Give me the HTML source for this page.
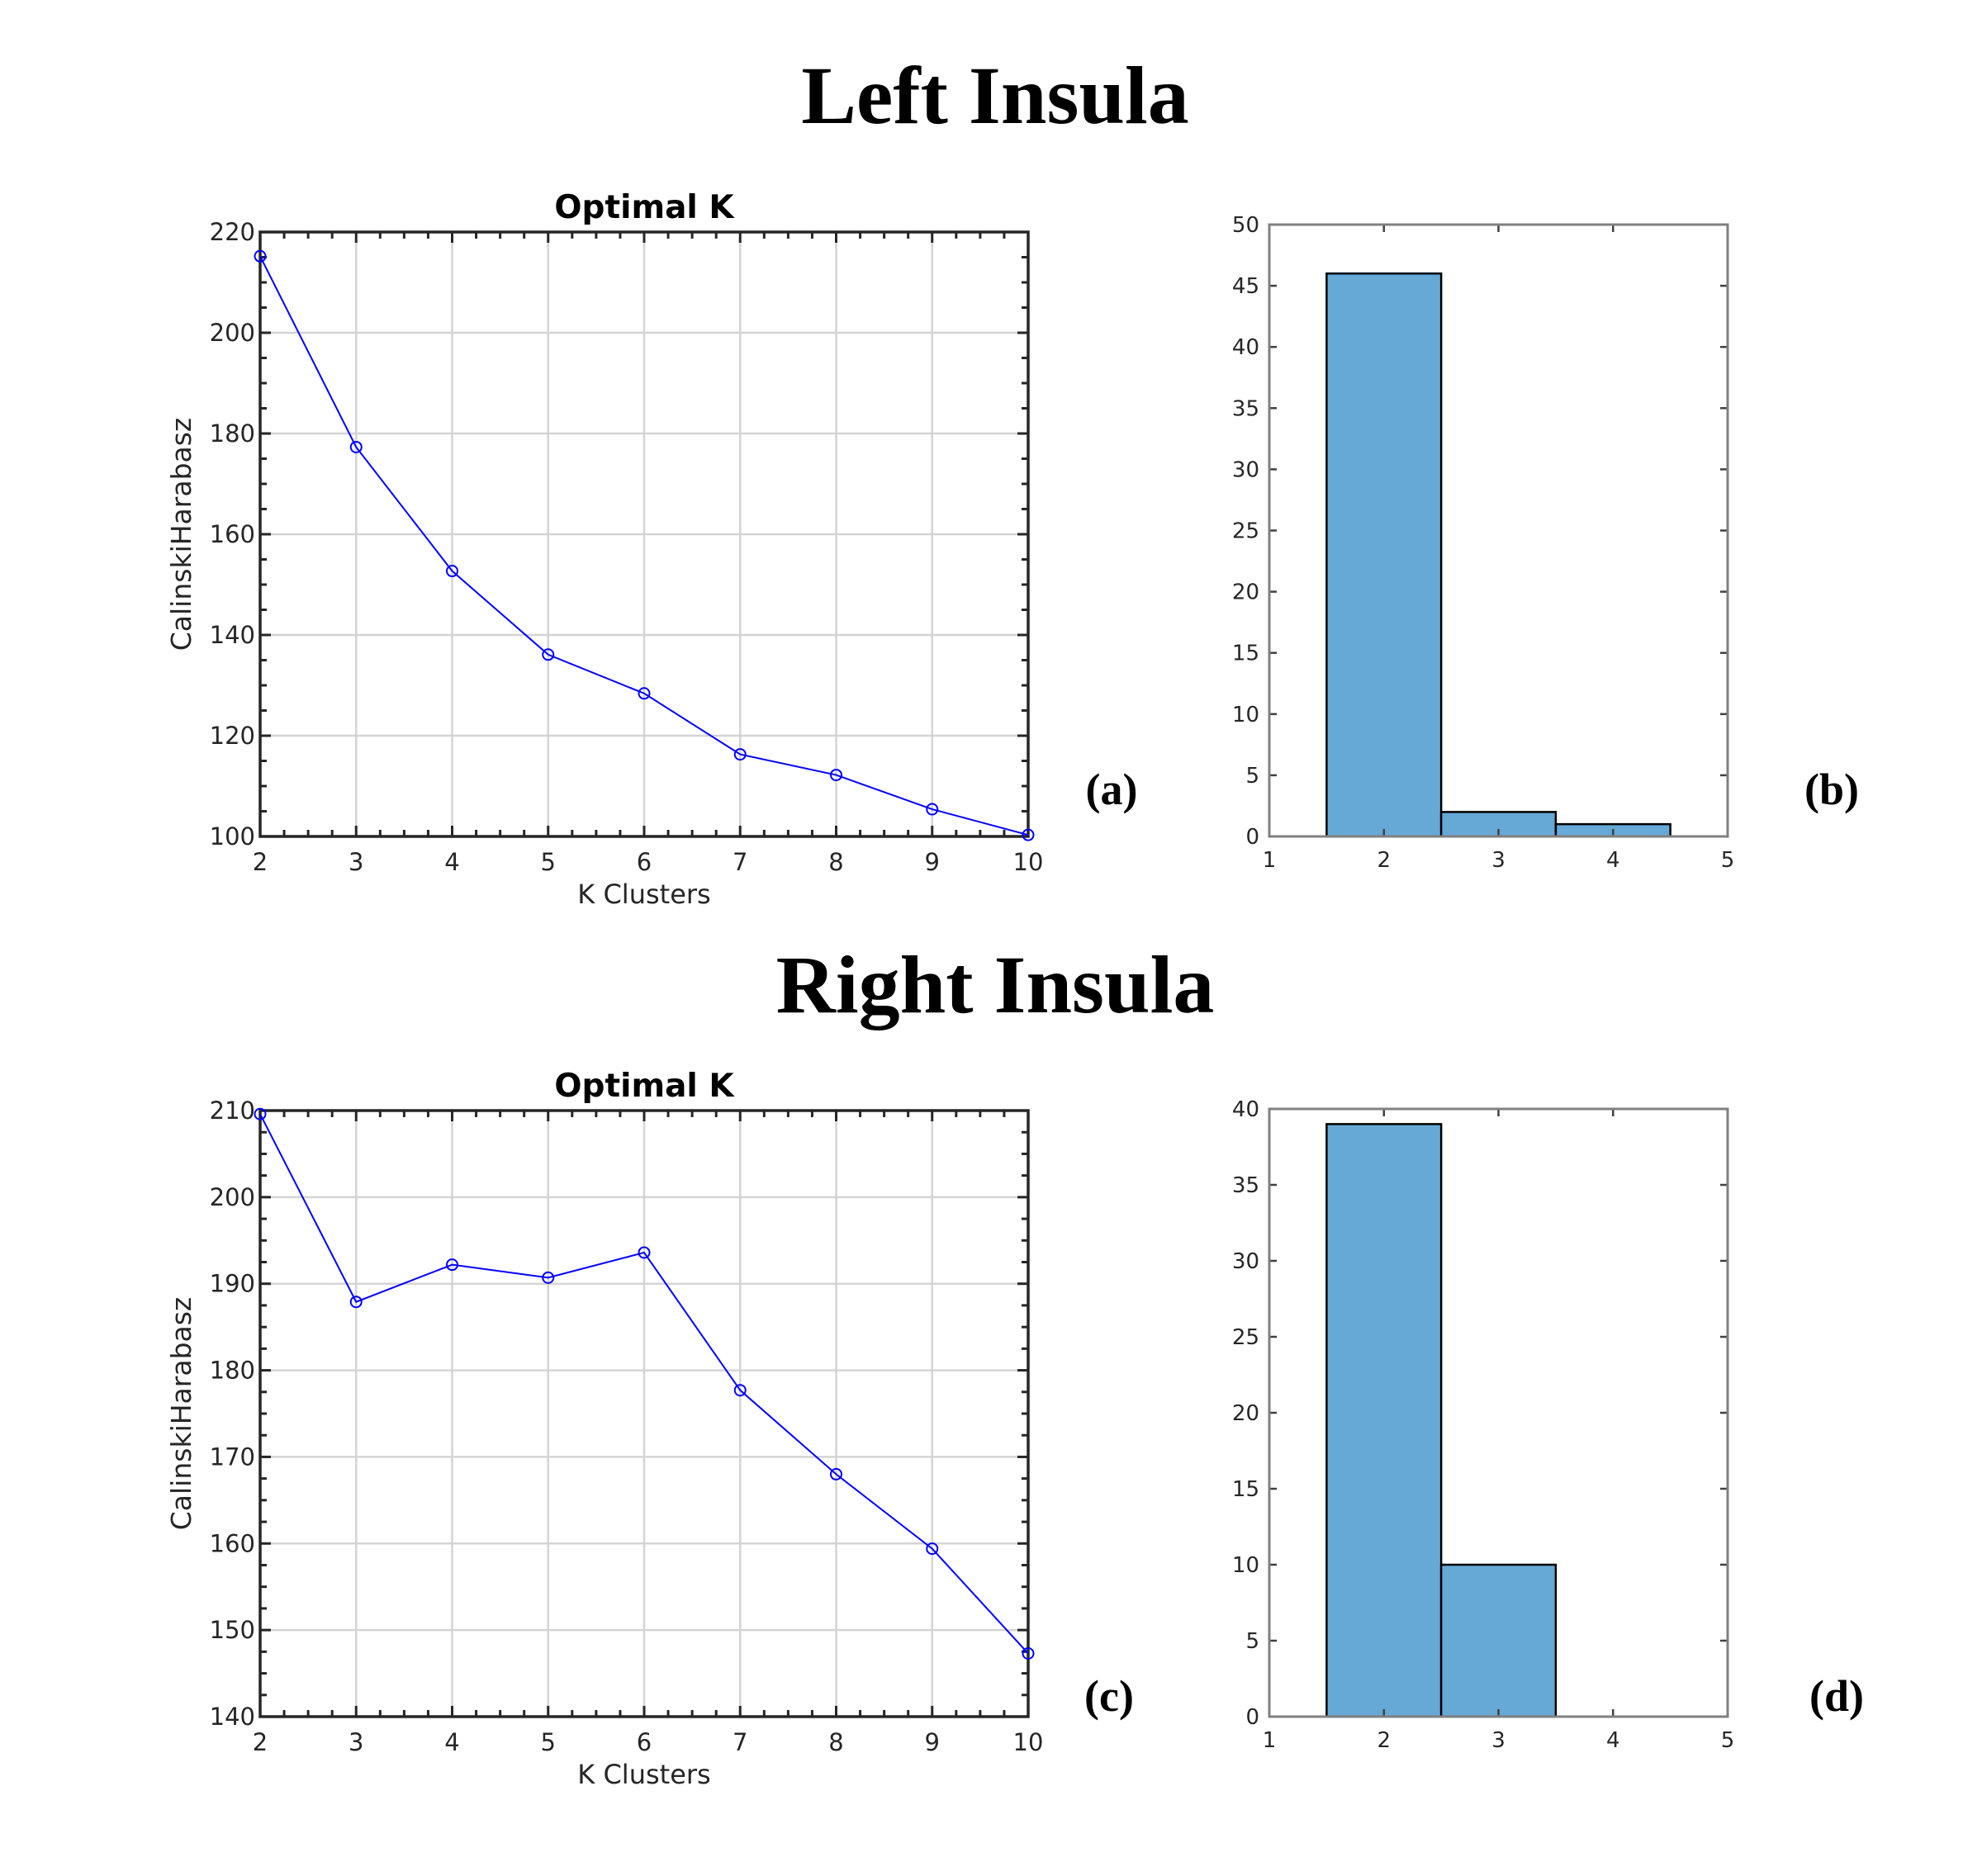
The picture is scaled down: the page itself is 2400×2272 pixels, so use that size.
<!DOCTYPE html>
<html><head><meta charset="utf-8"><style>
html,body{margin:0;padding:0;background:#fff}
svg{display:block}
</style></head><body>
<svg id="fig" width="2400" height="2272" xmlns="http://www.w3.org/2000/svg">
<text x="1205" y="149" text-anchor="middle" font-family="Liberation Serif, serif" font-weight="bold" font-size="100">Left Insula</text>
<text x="1205" y="1226" text-anchor="middle" font-family="Liberation Serif, serif" font-weight="bold" font-size="100">Right Insula</text>
<text x="1346" y="974" text-anchor="middle" font-family="Liberation Serif, serif" font-weight="bold" font-size="54">(a)</text>
<text x="2218" y="974" text-anchor="middle" font-family="Liberation Serif, serif" font-weight="bold" font-size="54">(b)</text>
<text x="1343" y="2072" text-anchor="middle" font-family="Liberation Serif, serif" font-weight="bold" font-size="54">(c)</text>
<text x="2224" y="2072" text-anchor="middle" font-family="Liberation Serif, serif" font-weight="bold" font-size="54">(d)</text>
</svg>
<script>
const kCategories=[2,3,4,5,6,7,8,9,10];
const leftCH=[215.2,177.3,152.7,136.1,128.4,116.3,112.2,105.4,100.3];
const rightCH=[209.6,187.9,192.2,190.7,193.6,177.7,168.0,159.4,147.3];
const leftYTicks=[100,120,140,160,180,200,220];
const rightYTicks=[140,150,160,170,180,190,200,210];
const histBins=[2,3,4];
const leftCounts=[46,2,1];
const rightCounts=[39,10,0];
const histXTicks=[1,2,3,4,5];
const leftHistYTicks=[0,5,10,15,20,25,30,35,40,45,50];
const rightHistYTicks=[0,5,10,15,20,25,30,35,40];

const svg=document.getElementById('fig');
const NS='http://www.w3.org/2000/svg';
function el(tag,attrs,parent){const e=document.createElementNS(NS,tag);for(const k in attrs)e.setAttribute(k,attrs[k]);(parent||svg).appendChild(e);return e;}
const FONT='DejaVu Sans, Liberation Sans, sans-serif';

function linePlot(name,x0,y0,x1,y1,ymin,ymax,yTicks,vals,minorStep){
  const g=el('g',{});
  
  
  const sx=v=>x0+(v-2)/(8)*(x1-x0);
  const sy=v=>y1-(v-ymin)/(ymax-ymin)*(y1-y0);
  kCategories.forEach(k=>{const l=el('line',{x1:sx(k),x2:sx(k),y1:y0,y2:y1,stroke:'#d4d4d4','stroke-width':2.5},g);});
  yTicks.forEach(t=>{const l=el('line',{x1:x0,x2:x1,y1:sy(t),y2:sy(t),stroke:'#d4d4d4','stroke-width':2.5},g);});
  for(let k=2;k<=10.001;k+=0.25){const isMaj=Math.abs(k-Math.round(k))<1e-6;const len=isMaj?13:8;
    el('line',{x1:sx(k),x2:sx(k),y1:y1,y2:y1-len,stroke:'#262626','stroke-width':3},g);
    el('line',{x1:sx(k),x2:sx(k),y1:y0,y2:y0+len,stroke:'#262626','stroke-width':3},g);}
  for(let v=ymin;v<=ymax+1e-6;v+=minorStep){const isMaj=yTicks.some(t=>Math.abs(t-v)<1e-6);const len=isMaj?13:8;
    el('line',{x1:x0,x2:x0+len,y1:sy(v),y2:sy(v),stroke:'#262626','stroke-width':3},g);
    el('line',{x1:x1,x2:x1-len,y1:sy(v),y2:sy(v),stroke:'#262626','stroke-width':3},g);}
  const r=el('rect',{x:x0,y:y0,width:x1-x0,height:y1-y0,fill:'none',stroke:'#262626','stroke-width':3.5},g);
  
  kCategories.forEach(k=>{const t=el('text',{x:sx(k),y:y1+41,'text-anchor':'middle','font-family':FONT,'font-size':29,fill:'#262626'},g);t.textContent=k;});
  yTicks.forEach(v=>{const t=el('text',{x:x0-6,y:sy(v)+10,'text-anchor':'end','font-family':FONT,'font-size':29,fill:'#262626'},g);t.textContent=v;});
  const xl=el('text',{x:(x0+x1)/2,y:y1+81,'text-anchor':'middle','font-family':FONT,'font-size':32,fill:'#262626'},g);xl.textContent='K Clusters';
  
  const yl=el('text',{x:0,y:0,transform:`translate(${x0-84},${(y0+y1)/2}) rotate(-90)`,'text-anchor':'middle','font-family':FONT,'font-size':33,fill:'#262626'},g);yl.textContent='CalinskiHarabasz';
  
  const tt=el('text',{x:(x0+x1)/2,y:y0-17,'text-anchor':'middle','font-family':FONT,'font-weight':'bold','font-size':39,fill:'#000'},g);tt.textContent='Optimal K';
  
  const pts=vals.map((v,i)=>sx(kCategories[i])+','+sy(v)).join(' ');
  const pl=el('polyline',{points:pts,fill:'none',stroke:'#0000ff','stroke-width':2},g);
  
  vals.forEach((v,i)=>{const c=el('circle',{cx:sx(kCategories[i]),cy:sy(v),r:6.5,fill:'none',stroke:'#0000ff','stroke-width':2},g);});
}

function histPlot(name,x0,y0,x1,y1,ymax,yTicks,counts){
  const g=el('g',{});
  
  
  const sx=v=>x0+(v-1)/4*(x1-x0);
  const sy=v=>y1-v/ymax*(y1-y0);
  counts.forEach((c,i)=>{const b=histBins[i];const xa=sx(b-0.5),xb=sx(b+0.5),yt=sy(c);
    const r=el('path',{d:`M${xa},${y1} L${xa},${yt} L${xb},${yt} L${xb},${y1} Z`,fill:'#66a9d6',stroke:'#000','stroke-width':2.5},g);
    });
  histXTicks.forEach(t=>{el('line',{x1:sx(t),x2:sx(t),y1:y1,y2:y1-9,stroke:'#404040','stroke-width':2.5},g);el('line',{x1:sx(t),x2:sx(t),y1:y0,y2:y0+9,stroke:'#404040','stroke-width':2.5},g);
    const tx=el('text',{x:sx(t),y:y1+37,'text-anchor':'middle','font-family':FONT,'font-size':26,fill:'#262626'},g);tx.textContent=t;});
  yTicks.forEach(t=>{el('line',{x1:x0,x2:x0+9,y1:sy(t),y2:sy(t),stroke:'#404040','stroke-width':2.5},g);el('line',{x1:x1,x2:x1-9,y1:sy(t),y2:sy(t),stroke:'#404040','stroke-width':2.5},g);
    const tx=el('text',{x:x0-12,y:sy(t)+9,'text-anchor':'end','font-family':FONT,'font-size':26,fill:'#262626'},g);tx.textContent=t;});
  const r=el('rect',{x:x0,y:y0,width:x1-x0,height:y1-y0,fill:'none',stroke:'#808080','stroke-width':3},g);
  
}

linePlot('left-optimal-k-chart',315,281,1245,1013,100,220,leftYTicks,leftCH,5);
linePlot('right-optimal-k-chart',315,1345,1245,2079,140,210,rightYTicks,rightCH,2.5);
histPlot('left-histogram',1537,272,2092,1013,50,leftHistYTicks,leftCounts);
histPlot('right-histogram',1537,1343,2092,2079,40,rightHistYTicks,rightCounts);
</script>
</body></html>
